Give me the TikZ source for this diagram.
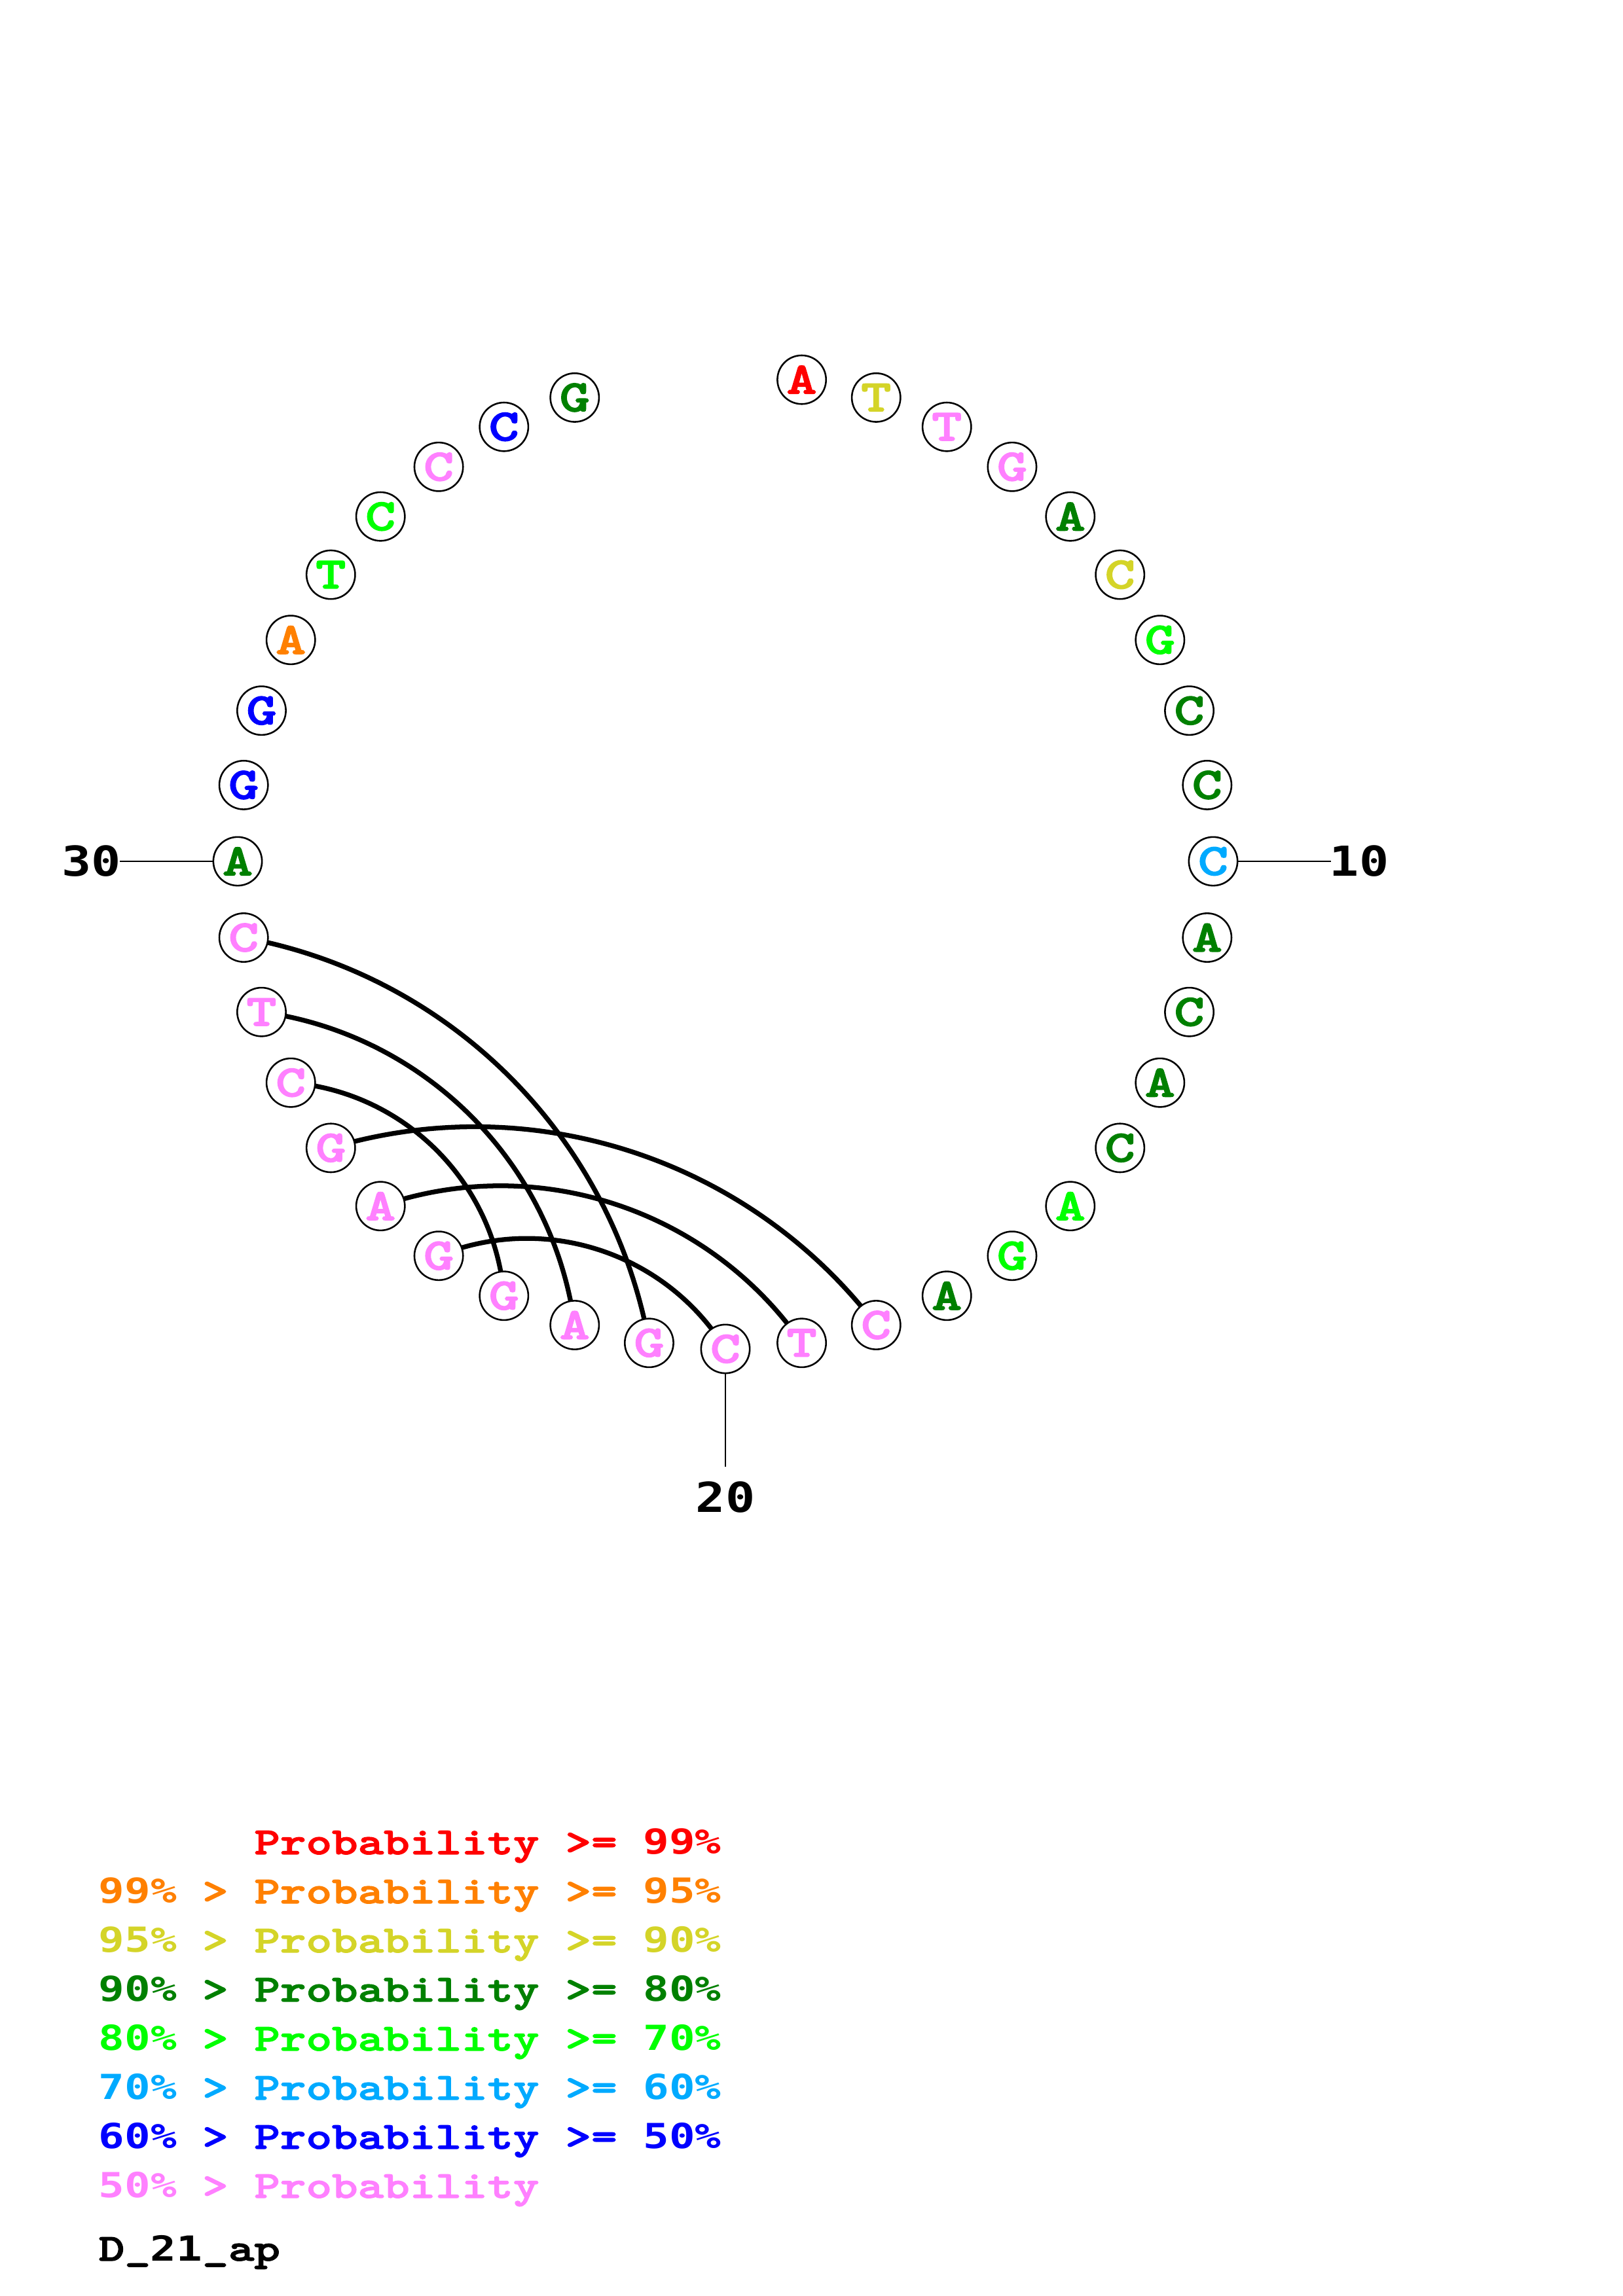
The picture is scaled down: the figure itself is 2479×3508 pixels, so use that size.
\documentclass[tikz,border=0pt]{standalone}
\usepackage{fontspec}
\newfontfamily\nucfont{lmmonolt10-bold}[Extension=.otf,FakeStretch=1.29,FakeBold=2.2]
\newfontfamily\digA{DejaVu Sans Mono}[FakeStretch=1.25]
\newfontfamily\digB{DejaVu Sans Mono}[FakeStretch=1.19]
\pgfdeclarelayer{background}
\pgfsetlayers{background,main}
\definecolor{cA}{RGB}{255,0,0}
\definecolor{cB}{RGB}{255,128,0}
\definecolor{cC}{RGB}{212,212,40}
\definecolor{cD}{RGB}{0,128,0}
\definecolor{cE}{RGB}{0,255,0}
\definecolor{cF}{RGB}{0,170,255}
\definecolor{cG}{RGB}{0,0,255}
\definecolor{cH}{RGB}{255,128,255}
\newcommand\dg[1]{{\digA\bfseries\fontsize{12.7pt}{12.7pt}\selectfont #1}}
\newcommand\legrow[2]{\makebox[38.16pt][l]{\dg{#1}}\makebox[19.08pt][l]{>}\makebox[114.48pt][l]{Probability}\makebox[28.62pt][l]{>=}\dg{#2}}
\begin{document}
\begin{tikzpicture}[x=0.0846667mm,y=0.0846667mm,
  nuc/.style={circle,draw,line width=0.62pt,fill=white,minimum size=17.9pt,inner sep=0pt,
    font={\nucfont\fontsize{16.5pt}{16.5pt}\selectfont}},
  pairarc/.style={line width=1.75pt,line cap=round},
  tick/.style={line width=0.56pt},
  numlab/.style={inner sep=0pt,font={\digB\bfseries\fontsize{15.2pt}{15.2pt}\selectfont}},
  leg/.style={anchor=base west,inner sep=0pt,font={\nucfont\fontsize{14.07pt}{14.07pt}\selectfont}}]
\useasboundingbox (0,0) rectangle (2479,3508);
\coordinate (O) at (1108,2192);
\foreach \i/\b/\c in {1/A/cA,2/T/cC,3/T/cH,4/G/cH,5/A/cD,6/C/cC,7/G/cE,8/C/cD,9/C/cD,10/C/cF,
  11/A/cD,12/C/cD,13/A/cD,14/C/cD,15/A/cE,16/G/cE,17/A/cD,18/C/cH,19/T/cH,20/C/cH,
  21/G/cH,22/A/cH,23/G/cH,24/G/cH,25/A/cH,26/G/cH,27/C/cH,28/T/cH,29/C/cH,30/A/cD,
  31/G/cG,32/G/cG,33/A/cB,34/T/cE,35/C/cE,36/C/cH,37/C/cG,38/G/cD}
  \node[nuc,text=\c] (n\i) at ({1108+745*cos((10-\i)*9)},{2192+745*sin((10-\i)*9)}) {\b};
\begin{pgfonlayer}{background}
\draw[pairarc] (n29.center) to[bend left=34.7,looseness=0.935] (n21.center);
\draw[pairarc] (n28.center) to[bend left=37.2,looseness=0.948] (n22.center);
\draw[pairarc] (n27.center) to[bend left=40.3,looseness=0.966] (n23.center);
\draw[pairarc] (n26.center) to[bend left=34.7,looseness=0.935] (n18.center);
\draw[pairarc] (n25.center) to[bend left=37.2,looseness=0.948] (n19.center);
\draw[pairarc] (n24.center) to[bend left=40.3,looseness=0.966] (n20.center);
\end{pgfonlayer}
\coordinate (t10) at (2033,2192);
\coordinate (t20) at (1108,1267);
\coordinate (t30) at (183,2192);
\draw[tick] (n10) -- (t10);
\draw[tick] (n20) -- (t20);
\draw[tick] (n30) -- (t30);
\node[numlab] (l10) at (2076,2192) {10};
\node[numlab] (l20) at (1108,1220) {20};
\node[numlab] (l30) at (140,2192) {30};
\node[leg,text=cA] (g1) at (150,675) {\makebox[57.24pt]{}\makebox[114.48pt][l]{Probability}\makebox[28.62pt][l]{>=}\dg{99\%}};
\node[leg,text=cB] (g2) at (150,600) {\legrow{99\%}{95\%}};
\node[leg,text=cC] (g3) at (150,525) {\legrow{95\%}{90\%}};
\node[leg,text=cD] (g4) at (150,450) {\legrow{90\%}{80\%}};
\node[leg,text=cE] (g5) at (150,375) {\legrow{80\%}{70\%}};
\node[leg,text=cF] (g6) at (150,300) {\legrow{70\%}{60\%}};
\node[leg,text=cG] (g7) at (150,225) {\legrow{60\%}{50\%}};
\node[leg,text=cH] (g8) at (150,150) {\makebox[38.16pt][l]{\dg{50\%}}\makebox[19.08pt][l]{>}Probability};
\node[leg,text=black] (title) at (150,54) {D\_\dg{21}\_ap};
\end{tikzpicture}
\end{document}
